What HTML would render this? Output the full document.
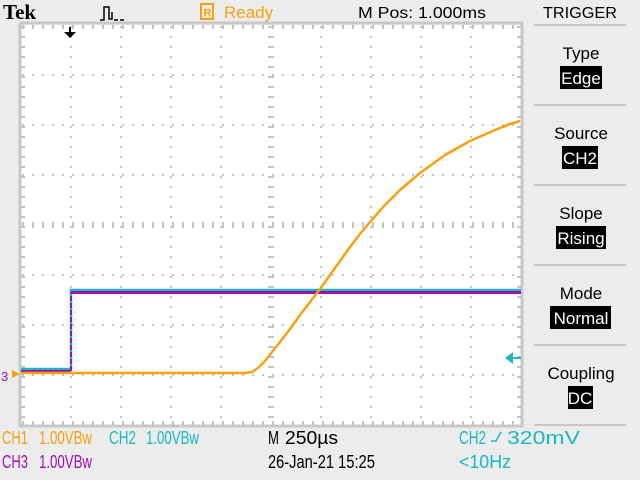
<!DOCTYPE html>
<html><head><meta charset="utf-8"><style>
body{margin:0;width:640px;height:480px;background:#ececec;overflow:hidden;font-family:"Liberation Sans",sans-serif}
svg{position:absolute;left:0;top:0}
</style></head><body>
<svg width="640" height="480" xmlns="http://www.w3.org/2000/svg">
<rect width="640" height="480" fill="#ececec"/>
<rect x="21" y="25" width="500" height="400" fill="#fff"/>
<path d="M20 23V426H522V23H20" fill="none" stroke="#c8c8c8" stroke-width="3"/>
<g stroke="#c4c4c4" stroke-width="2" stroke-dasharray="2,8">
<path d="M71 26V425M121 26V425M171 26V425M221 26V425M321 26V425M371 26V425M421 26V425M471 26V425"/>
<path d="M22 75H521M22 125H521M22 175H521M22 275H521M22 325H521M22 375H521"/>
</g>
<!-- center cross ticks -->
<g stroke="#c4c4c4" stroke-width="2" stroke-dasharray="2,8">
<path d="M22 225H521" stroke-width="6"/>
<path d="M271 26V425" stroke-width="6"/>
</g>
<!-- edge ticks -->
<g stroke="#c4c4c4" stroke-width="2" stroke-dasharray="2,8">
<path d="M22 27H521M22 423H521" stroke-width="4"/>
<path d="M23 26V425M519 26V425" stroke-width="4"/>
</g>
<!-- CH2 cyan -->
<path d="M21 369H71V290H521" fill="none" stroke="#1ab8c0" stroke-width="2.5"/>
<!-- CH3 magenta -->
<path d="M21 371.5H71" stroke="#a010b0" stroke-width="3"/>
<path d="M71 371V292" stroke="#a010b0" stroke-width="2" stroke-dasharray="5,2"/>
<path d="M71 292.5H521" stroke="#a010b0" stroke-width="3"/>
<!-- CH1 orange -->
<polyline points="21,373 245,373 252,372 258,368 265,361 272,352 280,342 290,329 300,315 310,302 320,289 335,268 350,247 360,234 370,222 385,205 400,190 420,173 445,155 470,141 495,130 510,124 520,121" fill="none" stroke="#f8a010" stroke-width="2.5" stroke-linejoin="round"/>
<!-- trigger marker -->
<path d="M64 32H76L70 38Z" fill="#000"/><path d="M70 27V34" stroke="#000" stroke-width="2"/>
<path d="M505 358L513 352V364Z" fill="#1ab8c0"/><path d="M511 358H521" stroke="#1ab8c0" stroke-width="2"/>
<text x="1" y="381" font-size="13" fill="#a010b0">3</text>
<path d="M12 370L20 374L12 378Z" fill="#f8a010"/>
<!-- header -->
<text x="3" y="19" font-family="Liberation Serif,serif" font-weight="bold" font-size="21" fill="#000">Tek</text>
<path d="M100 20H104V7H109V19H112V12" fill="none" stroke="#000" stroke-width="1.5"/>
<path d="M114 20H118M120 20H124" stroke="#000" stroke-width="1.5"/>
<rect x="201" y="4" width="12" height="15" fill="none" stroke="#f8a010" stroke-width="2"/>
<text x="203.5" y="16.5" font-size="11" fill="#f8a010" font-weight="bold">R</text>
<text x="224" y="18" font-size="17" fill="#f8a010">Ready</text>
<text x="358" y="18" font-size="16" fill="#000" textLength="128" lengthAdjust="spacingAndGlyphs">M Pos: 1.000ms</text>
<text x="543" y="18" font-size="16" fill="#000" textLength="74" lengthAdjust="spacingAndGlyphs">TRIGGER</text>
<!-- menu -->
<g stroke="#c8c8c8" stroke-width="2"><path d="M534 25H626M534 105H626M534 185H626M534 265H626M534 345H626M534 425H626"/></g>
<g font-size="17" fill="#000" text-anchor="middle">
<text x="581" y="59">Type</text><text x="581" y="139">Source</text><text x="581" y="219">Slope</text><text x="581" y="299">Mode</text><text x="581" y="379">Coupling</text>
</g>
<rect x="560" y="66" width="42" height="23" fill="#000"/>
<rect x="562" y="146" width="36" height="23" fill="#000"/>
<rect x="556" y="226" width="50" height="23" fill="#000"/>
<rect x="550" y="306" width="61" height="23" fill="#000"/>
<rect x="568" y="386" width="25" height="23" fill="#000"/>
<g font-size="17" fill="#fff" text-anchor="middle">
<text x="581" y="84">Edge</text><text x="580" y="164">CH2</text><text x="581" y="244">Rising</text><text x="581" y="324">Normal</text><text x="580" y="404">DC</text>
</g>
<!-- bottom -->
<g font-size="18">
<text x="2" y="444" fill="#f8a010" textLength="26" lengthAdjust="spacingAndGlyphs">CH1</text>
<text x="39" y="444" fill="#f8a010" textLength="53" lengthAdjust="spacingAndGlyphs">1.00VBw</text>
<text x="109" y="444" fill="#1ab8c0" textLength="27" lengthAdjust="spacingAndGlyphs">CH2</text>
<text x="146" y="444" fill="#1ab8c0" textLength="53" lengthAdjust="spacingAndGlyphs">1.00VBw</text>
<text x="2" y="468" fill="#a010b0" textLength="26" lengthAdjust="spacingAndGlyphs">CH3</text>
<text x="39" y="468" fill="#a010b0" textLength="53" lengthAdjust="spacingAndGlyphs">1.00VBw</text>
<text x="268" y="444" fill="#000" textLength="11" lengthAdjust="spacingAndGlyphs">M</text>
<text x="285" y="444" fill="#000" textLength="53" lengthAdjust="spacingAndGlyphs">250µs</text>
<text x="268" y="468" fill="#000" textLength="66" lengthAdjust="spacingAndGlyphs">26-Jan-21</text>
<text x="338" y="468" fill="#000" textLength="37" lengthAdjust="spacingAndGlyphs">15:25</text>
<text x="459" y="444" fill="#1ab8c0" textLength="27" lengthAdjust="spacingAndGlyphs">CH2</text>
<path d="M491 441H496L501 432" fill="none" stroke="#1ab8c0" stroke-width="1.5"/>
<text x="507" y="444" fill="#1ab8c0" textLength="73" lengthAdjust="spacingAndGlyphs">320mV</text>
<text x="459" y="468" fill="#1ab8c0" textLength="52" lengthAdjust="spacingAndGlyphs">&lt;10Hz</text>
</g>
</svg>
</body></html>
